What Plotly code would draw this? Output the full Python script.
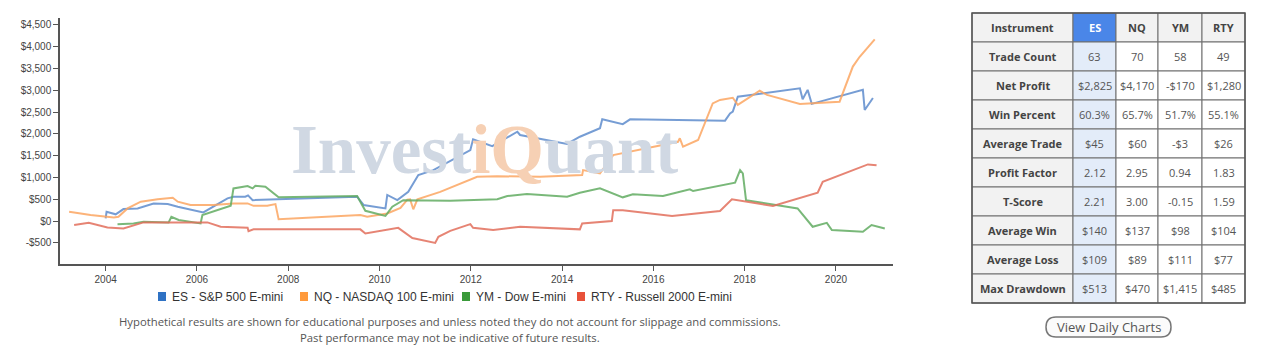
import plotly.graph_objects as go

# ---- Cumulative net profit per instrument (decimal year, USD) ----
es_years = [2004.00, 2004.02, 2004.22, 2004.39, 2004.70, 2005.05, 2005.36, 2005.58, 2006.14, 2006.36,
            2006.67, 2006.80, 2007.06, 2007.12, 2007.22, 2009.51, 2009.65, 2010.13, 2010.17, 2010.39,
            2010.63, 2010.85, 2011.18, 2011.99, 2012.05, 2012.47, 2013.02, 2013.08, 2014.11, 2014.39,
            2014.83, 2014.88, 2015.33, 2015.49, 2017.57, 2017.68, 2017.74, 2017.85, 2019.21, 2019.27,
            2019.38, 2019.47, 2020.59, 2020.63, 2020.81]
es_values = [60, 215, 155, 275, 290, 405, 390, 330, 200, 330,
             520, 560, 560, 590, 480, 560, 370, 290, 600, 480,
             670, 1055, 1170, 1630, 1875, 1720, 2050, 1975, 1770, 1935,
             2130, 2335, 2225, 2335, 2305, 2470, 2510, 2855, 3045, 2795,
             3010, 2690, 3010, 2550, 2825]

nq_years = [2003.20, 2003.67, 2004.18, 2004.28, 2004.48, 2004.77, 2005.14, 2005.47, 2005.58, 2005.86,
            2006.36, 2006.80, 2007.11, 2007.24, 2007.54, 2007.72, 2007.79, 2009.58, 2009.73, 2010.17,
            2010.46, 2010.61, 2010.67, 2010.74, 2010.83, 2011.33, 2012.14, 2012.58, 2013.52, 2014.44,
            2014.46, 2014.83, 2015.12, 2016.54, 2016.58, 2016.65, 2016.98, 2017.30, 2017.46, 2017.74,
            2017.85, 2018.33, 2018.49, 2019.21, 2020.08, 2020.37, 2020.52, 2020.85]
nq_values = [215, 140, 85, 100, 290, 445, 500, 535, 445, 370,
             370, 405, 405, 350, 350, 390, 40, 140, 100, 175,
             300, 490, 500, 270, 500, 670, 1015, 1030, 1015, 1055,
             1170, 1095, 1515, 1820, 1900, 1705, 1860, 2700, 2780, 2830,
             2665, 2990, 2895, 2685, 2740, 3545, 3770, 4170]

ym_years = [2004.26, 2004.61, 2004.83, 2005.38, 2005.44, 2005.60, 2006.08, 2006.12, 2006.74, 2006.80,
            2007.11, 2007.22, 2007.28, 2007.50, 2007.79, 2009.51, 2009.69, 2010.13, 2010.28, 2010.52,
            2011.55, 2012.58, 2012.80, 2013.23, 2014.11, 2014.39, 2014.83, 2015.33, 2015.55, 2016.21,
            2016.80, 2016.87, 2017.79, 2017.90, 2017.96, 2018.03, 2019.16, 2019.49, 2019.80, 2019.91,
            2020.59, 2020.78, 2021.07]
ym_values = [-75, -55, -15, -30, 100, 25, -55, 140, 350, 750,
             805, 750, 810, 790, 545, 575, 235, 120, 330, 480,
             465, 500, 575, 620, 560, 650, 750, 545, 615, 575,
             730, 690, 880, 1170, 1095, 480, 290, -130, -40, -205,
             -245, -90, -170]

rty_years = [2003.31, 2003.63, 2004.04, 2004.39, 2004.83, 2006.23, 2006.52, 2007.11, 2007.13, 2007.24,
             2009.58, 2009.69, 2010.41, 2010.72, 2011.22, 2011.29, 2011.55, 2011.99, 2012.05, 2012.49,
             2013.08, 2014.39, 2014.44, 2015.09, 2015.12, 2015.33, 2016.41, 2017.46, 2017.72, 2018.62,
             2019.60, 2019.71, 2020.70, 2020.89]
rty_values = [-90, -40, -145, -170, -30, -30, -130, -155, -230, -190,
              -190, -285, -155, -390, -500, -360, -225, -70, -155, -205,
              -130, -190, -55, 0, 250, 250, 115, 230, 500, 345,
              650, 900, 1300, 1280]

series_names = ["ES - S&P 500 E-mini", "NQ - NASDAQ 100 E-mini", "YM - Dow E-mini", "RTY - Russell 2000 E-mini"]
line_colors = ["rgba(94,140,204,0.85)", "rgba(252,166,98,0.85)", "rgba(98,172,98,0.85)", "rgba(226,110,92,0.85)"]
legend_colors = ["#2f72c4", "#ff9a3c", "#3a9a3a", "#e8513a"]

year_ticks = [2004, 2006, 2008, 2010, 2012, 2014, 2016, 2018, 2020]
profit_ticks = [-500, 0, 500, 1000, 1500, 2000, 2500, 3000, 3500, 4000, 4500]
profit_labels = [("-$" if v < 0 else "$") + f"{abs(v):,}" for v in profit_ticks]

# ---- Statistics table ----
instruments = ["ES", "NQ", "YM", "RTY"]
metrics = ["Trade Count", "Net Profit", "Win Percent", "Average Trade", "Profit Factor",
           "T-Score", "Average Win", "Average Loss", "Max Drawdown"]
stats_es = ["63", "$2,825", "60.3%", "$45", "2.12", "2.21", "$140", "$109", "$513"]
stats_nq = ["70", "$4,170", "65.7%", "$60", "2.95", "3.00", "$137", "$89", "$470"]
stats_ym = ["58", "-$170", "51.7%", "-$3", "0.94", "-0.15", "$98", "$111", "$1,415"]
stats_rty = ["49", "$1,280", "55.1%", "$26", "1.83", "1.59", "$104", "$77", "$485"]

W, H = 1286, 349


def px_x(p):
    return p / W


def px_y(p):
    return 1 - p / H


fig = go.Figure()

all_years = [es_years, nq_years, ym_years, rty_years]
all_values = [es_values, nq_values, ym_values, rty_values]
for yrs, vals, name, col in zip(all_years, all_values, series_names, line_colors):
    fig.add_trace(go.Scatter(x=yrs, y=vals, mode="lines", name=name,
                             line=dict(color=col, width=2), showlegend=False,
                             hoverinfo="skip"))

annotations = []
shapes = []

# ---- watermark ----
annotations.append(dict(
    xref="paper", yref="paper", x=px_x(484), y=px_y(150), xanchor="center", yanchor="middle",
    text="<b><span style='color:#d0d8e3'>Invest</span><span style='color:#f6d0b4'>iQ</span>"
         "<span style='color:#d0d8e3'>uant</span></b>",
    showarrow=False, font=dict(family="Liberation Serif", size=69, color="#d0d8e3")))

# ---- legend row (square swatch + label) ----
legend_left = [158, 300, 462, 577]
for left, name, col in zip(legend_left, series_names, legend_colors):
    shapes.append(dict(type="rect", xref="paper", yref="paper",
                       x0=px_x(left), x1=px_x(left + 8), y0=px_y(301), y1=px_y(292),
                       fillcolor=col, line=dict(width=0)))
    annotations.append(dict(xref="paper", yref="paper", x=px_x(left + 12), y=px_y(296.5),
                            xanchor="left", yanchor="middle", text=name, showarrow=False,
                            font=dict(family="Liberation Sans", size=12, color="#333333")))

# ---- disclaimer ----
for txt, yy in [("Hypothetical results are shown for educational purposes and unless noted they do not account for slippage and commissions.", 321),
                ("Past performance may not be indicative of future results.", 337)]:
    annotations.append(dict(xref="paper", yref="paper", x=px_x(450), y=px_y(yy),
                            xanchor="center", yanchor="middle", text=txt, showarrow=False,
                            font=dict(family="Open Sans", size=11.3, color="#555555")))

# ---- statistics table ----
col_edges = [972, 1073, 1116, 1158, 1202, 1245]
row_top, row_h = 13, 29
header = ["Instrument"] + instruments
columns = [metrics, stats_es, stats_nq, stats_ym, stats_rty]
n_rows = len(metrics) + 1
for r in range(n_rows):
    y0 = row_top + r * row_h
    y1 = y0 + row_h
    for c in range(len(header)):
        x0, x1 = col_edges[c], col_edges[c + 1]
        if r == 0:
            fill = "#4a86e8" if c == 1 else "#f2f2f2"
            txt = f"<b>{header[c]}</b>"
            fcol = "#ffffff" if c == 1 else "#444444"
        else:
            fill = ["#f2f2f2", "#e3ecf9", "#ffffff", "#ffffff", "#ffffff"][c]
            val = columns[c][r - 1]
            txt = f"<b>{val}</b>" if c == 0 else val
            fcol = "#444444" if c == 0 else "#555555"
        shapes.append(dict(type="rect", xref="paper", yref="paper",
                           x0=px_x(x0), x1=px_x(x1), y0=px_y(y1), y1=px_y(y0),
                           fillcolor=fill, line=dict(color="#6f6f6f", width=1)))
        annotations.append(dict(xref="paper", yref="paper", x=px_x((x0 + x1) / 2), y=px_y((y0 + y1) / 2),
                                xanchor="center", yanchor="middle", text=txt, showarrow=False,
                                font=dict(family="Open Sans", size=11, color=fcol)))
# outer frame
shapes.append(dict(type="rect", xref="paper", yref="paper",
                   x0=px_x(col_edges[0]), x1=px_x(col_edges[-1]),
                   y0=px_y(row_top + n_rows * row_h), y1=px_y(row_top),
                   fillcolor="rgba(0,0,0,0)", line=dict(color="#555555", width=1.5)))


# ---- "View Daily Charts" button ----
def pill_path(x0, y0, x1, y1, r):
    pts = [f"M {px_x(x0 + r)},{px_y(y0)}",
           f"L {px_x(x1 - r)},{px_y(y0)}",
           f"Q {px_x(x1)},{px_y(y0)} {px_x(x1)},{px_y(y0 + r)}",
           f"Q {px_x(x1)},{px_y(y1)} {px_x(x1 - r)},{px_y(y1)}",
           f"L {px_x(x0 + r)},{px_y(y1)}",
           f"Q {px_x(x0)},{px_y(y1)} {px_x(x0)},{px_y(y1 - r)}",
           f"Q {px_x(x0)},{px_y(y0)} {px_x(x0 + r)},{px_y(y0)}",
           "Z"]
    return " ".join(pts)


shapes.append(dict(type="path", xref="paper", yref="paper", path=pill_path(1046, 317, 1171, 337, 10),
                   line=dict(color="#777777", width=1.5), fillcolor="#fbfbfb"))
annotations.append(dict(xref="paper", yref="paper", x=px_x(1108.5), y=px_y(327),
                        xanchor="center", yanchor="middle", text="View Daily Charts", showarrow=False,
                        font=dict(family="Open Sans", size=13, color="#555555")))

fig.update_layout(
    width=W, height=H,
    margin=dict(l=0, r=0, t=0, b=0),
    paper_bgcolor="white", plot_bgcolor="white",
    font=dict(family="Liberation Sans", color="#444444"),
    showlegend=False,
    xaxis=dict(domain=[px_x(60), px_x(893)], range=[2003.0, 2021.25],
               tickvals=year_ticks, ticktext=[str(y) for y in year_ticks],
               showgrid=False, zeroline=False, showline=True, linecolor="#555555", linewidth=1.5,
               ticks="outside", ticklen=5, tickcolor="#555555", tickwidth=1,
               tickfont=dict(family="Liberation Sans", size=10, color="#444444")),
    yaxis=dict(domain=[px_y(264), px_y(18)], range=[-985, 4660],
               tickvals=profit_ticks, ticktext=profit_labels,
               showgrid=False, zeroline=False, showline=True, linecolor="#555555", linewidth=1.5,
               ticks="outside", ticklen=5, tickcolor="#555555", tickwidth=1,
               tickfont=dict(family="Liberation Sans", size=10, color="#444444")),
    annotations=annotations,
    shapes=shapes,
)

fig.write_html("out.html")
